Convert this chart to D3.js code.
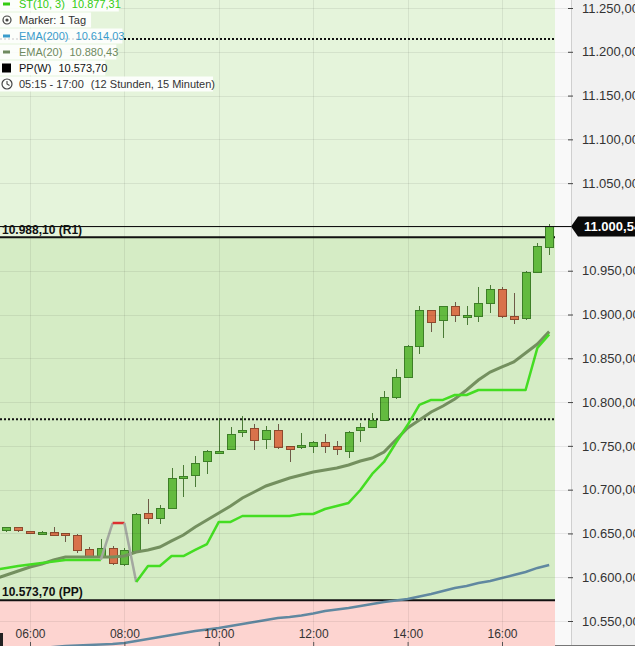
<!DOCTYPE html>
<html><head><meta charset="utf-8">
<script src="https://cdn.jsdelivr.net/npm/d3@7"></script>
<style>
html,body{margin:0;padding:0;background:#fff;overflow:hidden}
svg{display:block;font-family:"Liberation Sans",Arial,sans-serif}
</style></head><body>
<svg id="c" width="635" height="646"></svg>
<script>
// ---------- DATA ----------
const times = ["05:15","05:30","05:45","06:00","06:15","06:30","06:45","07:00","07:15","07:30","07:45","08:00",
  "08:15","08:30","08:45","09:00","09:15","09:30","09:45","10:00","10:15","10:30","10:45","11:00",
  "11:15","11:30","11:45","12:00","12:15","12:30","12:45","13:00","13:15","13:30","13:45","14:00",
  "14:15","14:30","14:45","15:00","15:15","15:30","15:45","16:00","16:15","16:30","16:45","17:00"];
const candleTimes = ["05:30","05:45","06:00","06:15","06:30","06:45","07:00","07:15","07:30","07:45","08:00",
  "08:15","08:30","08:45","09:00","09:15","09:30","09:45","10:00","10:15","10:30","10:45","11:00",
  "11:15","11:30","11:45","12:00","12:15","12:30","12:45","13:00","13:15","13:30","13:45","14:00",
  "14:15","14:30","14:45","15:00","15:15","15:30","15:45","16:00","16:15","16:30","16:45","17:00"];
const open = [10652.8,10656.2,10651.8,10649.4,10651.6,10649.4,10647.1,10631.1,10624.2,10632.3,10614.0,
  10628.8,10673.3,10666.5,10679.0,10712.2,10715.6,10731.6,10741.8,10746.4,10764.7,10769.3,10757.8,
  10767.0,10748.7,10747.6,10748.7,10754.4,10749.0,10743.0,10767.0,10771.5,10778.4,10804.7,10827.5,
  10862.9,10904.0,10892.6,10909.7,10898.3,10897.2,10913.1,10929.1,10897.2,10894.9,10947.4,10976.0];
const high = [10657.3,10657.3,10653.0,10652.8,10657.3,10649.6,10649.4,10634.5,10643.7,10635.7,10633.0,
  10673.3,10689.3,10682.5,10724.7,10728.1,10738.4,10745.3,10781.8,10771.5,10784.1,10775.0,10772.7,
  10775.0,10749.0,10764.7,10756.0,10763.5,10755.6,10766.5,10776.1,10787.5,10812.7,10837.8,10865.2,
  10909.7,10904.5,10909.5,10914.3,10909.7,10931.4,10933.7,10931.4,10924.6,10949.5,10981.7,11003.0];
const low = [10652.0,10652.0,10650.0,10648.2,10648.0,10640.2,10627.7,10623.5,10623.5,10614.0,10613.0,
  10628.0,10660.8,10660.8,10678.0,10691.6,10703.0,10717.9,10741.0,10745.0,10760.1,10745.3,10746.4,
  10746.5,10731.6,10746.4,10741.8,10741.8,10739.6,10736.1,10754.4,10771.0,10778.0,10804.0,10827.0,
  10854.9,10880.0,10873.2,10891.4,10888.0,10891.4,10901.7,10896.0,10889.2,10894.0,10947.0,10968.0];
const close = [10656.2,10652.8,10651.4,10650.8,10648.2,10647.1,10630.0,10624.2,10632.3,10615.1,10630.0,
  10671.1,10666.5,10679.0,10712.2,10714.5,10729.3,10743.0,10744.1,10763.5,10768.1,10755.6,10767.0,
  10747.6,10746.4,10749.9,10754.4,10749.0,10745.3,10765.8,10771.5,10778.4,10804.7,10828.6,10862.9,
  10904.0,10891.4,10908.6,10898.3,10898.6,10912.0,10928.0,10897.2,10894.0,10948.5,10977.1,11000.54];

const ema20 = [10598.0,10602.5,10607.1,10611.7,10615.1,10619.7,10623.1,10623.1,10623.1,10623.1,10623.1,10624.2,
  10628.8,10631.1,10634.5,10641.4,10648.2,10657.4,10665.3,10673.3,10681.3,10690.5,10697.3,10704.2,
  10708.7,10713.3,10716.7,10720.2,10722.4,10724.7,10728.1,10732.7,10736.1,10743.0,10756.7,10770.4,
  10779.5,10788.7,10795.5,10803.5,10813.8,10825.2,10834.3,10840.1,10845.8,10856.0,10866.3,10880.43];
const ema200 = [10514.6,10515.8,10516.9,10518.0,10519.2,10520.3,10521.5,10522.1,10522.6,10523.2,10523.7,10524.9,
  10527.2,10529.5,10531.8,10534.0,10536.3,10538.6,10540.3,10542.0,10544.3,10546.6,10548.9,10551.2,
  10553.5,10554.6,10556.3,10558.6,10561.4,10563.2,10564.9,10567.2,10569.4,10571.7,10573.4,10575.1,
  10578.0,10580.8,10584.3,10587.7,10590.0,10593.4,10595.7,10599.1,10602.6,10606.0,10610.6,10614.03];
const st = [10608.3,10610.5,10612.8,10614.5,10616.2,10617.9,10619.7,10619.7,10619.7,10619.7,10661.9,10661.9,
  10594.5,10612.8,10612.8,10624.2,10624.2,10631.1,10637.9,10663.1,10663.1,10669.9,10669.9,10669.9,
  10669.9,10669.9,10672.2,10672.2,10677.9,10681.3,10684.8,10699.6,10717.9,10731.6,10753.3,10773.8,
  10796.7,10802.4,10802.4,10808.1,10808.1,10813.8,10813.8,10813.8,10813.8,10813.8,10861.8,10877.31];
const stTrend = ["u","u","u","u","u","u","u","u","u","u","d","d",
  "u","u","u","u","u","u","u","u","u","u","u","u",
  "u","u","u","u","u","u","u","u","u","u","u","u",
  "u","u","u","u","u","u","u","u","u","u","u","u"];

const r1 = 10988.10, pp = 10573.70, lastPrice = 11000.54;
const dottedLevels = [11214.6, 10780.3];
const yTicks = [10550,10600,10650,10700,10750,10800,10850,10900,10950,11000,11050,11100,11150,11200,11250];
const xTicks = ["06:00","08:00","10:00","12:00","14:00","16:00"];
const legendNames = ["ST(10, 3)","Marker: 1 Tag","EMA(200)","EMA(20)","PP(W)","05:15 - 17:00"];
const sessionText = "(12 Stunden, 15 Minuten)";

// ---------- SETUP ----------
const W = 635, H = 646, plotR = 555, axisX = 571;
const fmt = d3.formatLocale({decimal:",",thousands:".",grouping:[3],currency:["","€"]}).format(",.2f");
const T = s => { const [h,m] = s.split(":").map(Number); return new Date(2020,0,1,h,m); };
const x = d3.scaleTime().domain([T("06:00"), T("16:00")]).range([30, 502]);
const y = d3.scaleLinear().domain([10550, 11250]).range([621, 8]);

const svg = d3.select("#c");
svg.append("defs").append("clipPath").attr("id","clip")
  .append("rect").attr("x",0).attr("y",0).attr("width",plotR).attr("height",H);

// backgrounds
svg.append("rect").attr("x",plotR).attr("y",0).attr("width",axisX-plotR).attr("height",H).attr("fill","#f9f9f9");
svg.append("rect").attr("x",axisX).attr("y",0).attr("width",W-axisX).attr("height",H).attr("fill","#f1f1f1");
const plot = svg.append("g").attr("clip-path","url(#clip)");
plot.append("rect").attr("x",0).attr("y",0).attr("width",plotR).attr("height",y(r1)).attr("fill","#e5f4db");
plot.append("rect").attr("x",0).attr("y",y(r1)).attr("width",plotR).attr("height",y(pp)-y(r1)).attr("fill","#d5ecc5");
plot.append("rect").attr("x",0).attr("y",y(pp)).attr("width",plotR).attr("height",H-y(pp)).attr("fill","#fdd4d0");

// grid
svg.append("g").selectAll("line").data(yTicks).join("line")
  .attr("x1",0).attr("x2",axisX).attr("y1",d=>Math.round(y(d))+0.5).attr("y2",d=>Math.round(y(d))+0.5)
  .attr("stroke","rgba(0,0,0,0.07)");
plot.append("g").selectAll("line").data(xTicks).join("line")
  .attr("y1",0).attr("y2",H).attr("x1",d=>Math.round(x(T(d)))+0.5).attr("x2",d=>Math.round(x(T(d)))+0.5)
  .attr("stroke","rgba(0,0,0,0.07)");
svg.append("line").attr("x1",axisX+0.5).attr("x2",axisX+0.5).attr("y1",0).attr("y2",H).attr("stroke","#cfcfcf");
svg.append("line").attr("x1",plotR).attr("x2",W).attr("y1",H-0.5).attr("y2",H-0.5).attr("stroke","#777");

// level lines
plot.append("g").selectAll("line").data(dottedLevels).join("line")
  .attr("x1",0).attr("x2",plotR).attr("y1",d=>y(d)).attr("y2",d=>y(d))
  .attr("stroke","#111").attr("stroke-width",2).attr("stroke-dasharray","2,2");
plot.append("line").attr("x1",0).attr("x2",plotR).attr("y1",y(r1)).attr("y2",y(r1)).attr("stroke","#111").attr("stroke-width",2);
plot.append("line").attr("x1",0).attr("x2",plotR).attr("y1",y(pp)).attr("y2",y(pp)).attr("stroke","#111").attr("stroke-width",2);
svg.append("line").attr("x1",0).attr("x2",axisX).attr("y1",Math.round(y(lastPrice))+0.5).attr("y2",Math.round(y(lastPrice))+0.5)
  .attr("stroke","#111").attr("stroke-width",1);

// candles
const candles = candleTimes.map((t,i)=>({t:T(t),o:open[i],h:high[i],l:low[i],c:close[i]}));
const cg = plot.append("g").attr("shape-rendering","crispEdges");
cg.selectAll("line").data(candles).join("line")
  .attr("x1",d=>Math.round(x(d.t))+0.5).attr("x2",d=>Math.round(x(d.t))+0.5)
  .attr("y1",d=>y(d.h)).attr("y2",d=>y(d.l))
  .attr("stroke",d=>d.c>=d.o?"#4a7a36":"#6e5a48").attr("stroke-width",1);
cg.selectAll("rect").data(candles).join("rect")
  .attr("x",d=>Math.round(x(d.t))-3.5).attr("width",8)
  .attr("y",d=>y(Math.max(d.o,d.c))).attr("height",d=>Math.max(1.5,Math.abs(y(d.o)-y(d.c))))
  .attr("fill",d=>d.c>=d.o?"#63ba3f":"#d9724b")
  .attr("stroke",d=>d.c>=d.o?"#3d7f27":"#8e4a2e").attr("stroke-width",1);

// lines
const pts = arr => times.map((t,i)=>({t:T(t),v:arr[i]}));
const line = d3.line().x(d=>x(d.t)).y(d=>y(d.v));
plot.append("path").datum(pts(ema200)).attr("d",line).attr("fill","none").attr("stroke","#6088a0").attr("stroke-width",2.5);
plot.append("path").datum(pts(ema20)).attr("d",line).attr("fill","none").attr("stroke","#74905f").attr("stroke-width",3);

// supertrend in runs of colour
const stPts = pts(st);
const segColor = i => stTrend[i]===stTrend[i+1] ? (stTrend[i]==="u" ? "#44dd22" : "#dd3030") : "#a3a8a0";
const runs = [];
for (let i=0;i<stPts.length-1;i++){
  const c = segColor(i);
  if (runs.length && runs[runs.length-1].c===c) runs[runs.length-1].p.push(stPts[i+1]);
  else runs.push({c, p:[stPts[i], stPts[i+1]]});
}
plot.append("g").selectAll("path").data(runs).join("path")
  .attr("d",d=>line(d.p)).attr("fill","none").attr("stroke",d=>d.c).attr("stroke-width",2.5)
  .attr("stroke-linejoin","round");

// level labels
svg.append("text").attr("x",2).attr("y",y(r1)-3).text(fmt(r1)+" (R1)")
  .attr("font-size",12).attr("font-weight","bold").attr("fill","#111");
svg.append("text").attr("x",2).attr("y",y(pp)-4).text(fmt(pp)+" (PP)")
  .attr("font-size",12).attr("font-weight","bold").attr("fill","#111");

// axes (the label hidden behind the price marker is not drawn)
const py = Math.round(y(lastPrice));
const yLabelTicks = yTicks.filter(v => Math.abs(y(v) - py) > 12);
const yAxis = d3.axisRight(y).tickValues(yLabelTicks).tickFormat(fmt).tickSize(5).tickPadding(9);
const gy = svg.append("g").attr("transform",`translate(${axisX-3},0)`).call(yAxis);
gy.select(".domain").remove();
gy.selectAll(".tick line").attr("stroke","#444");
gy.selectAll(".tick text").attr("font-size",13).attr("fill","#333").attr("font-family","'Liberation Sans',Arial,sans-serif");

const xAxis = d3.axisTop(x).tickValues(xTicks.map(T)).tickFormat(d3.timeFormat("%H:%M")).tickSize(4).tickPadding(4);
const gx = svg.append("g").attr("transform",`translate(0,${H})`).call(xAxis);
gx.select(".domain").remove();
gx.selectAll(".tick line").attr("stroke","#555");
gx.selectAll(".tick text").attr("font-size",12).attr("fill","#333").attr("font-family","'Liberation Sans',Arial,sans-serif");
svg.append("rect").attr("x",0).attr("y",633).attr("width",3).attr("height",13).attr("fill","#222");

// price marker
svg.append("path").attr("d",`M${axisX},${py+0.5} L${axisX+7},${py-9.5} L${W},${py-9.5} L${W},${py+10.5} L${axisX+7},${py+10.5} Z`).attr("fill","#0a0a0a");
svg.append("text").attr("x",584).attr("y",py+5).text(fmt(lastPrice))
  .attr("font-size",13).attr("font-weight","bold").attr("fill","#fff");

// legend
const legendValues = [fmt(st[st.length-1]), "", fmt(ema200[ema200.length-1]), fmt(ema20[ema20.length-1]), fmt(pp), sessionText];
const legendColors = ["#33cc11","#333","#3a9ccc","#6f8a5f","#111","#333"];
const lg = svg.append("g");
legendNames.forEach((name,i)=>{
  const cy = 4 + i*16;
  const row = lg.append("g");
  const bg = row.append("rect").attr("x",0).attr("y",cy-7.5).attr("height",15).attr("fill","#fff").attr("fill-opacity",0.88);
  const tx = row.append("text").attr("x",19).attr("y",cy+4).attr("font-size",11).attr("fill",legendColors[i]);
  tx.append("tspan").text(name);
  if (legendValues[i]) tx.append("tspan").attr("dx",7).text(legendValues[i]);
  const wdt = tx.node().getComputedTextLength();
  bg.attr("width",19+wdt+5);
  if (i===0) row.append("rect").attr("x",3).attr("y",cy-1.5).attr("width",7).attr("height",3).attr("fill","#33cc11");
  if (i===1){
    row.append("circle").attr("cx",7).attr("cy",cy).attr("r",4).attr("fill","none").attr("stroke","#444").attr("stroke-width",1.2);
    row.append("circle").attr("cx",7).attr("cy",cy).attr("r",1.6).attr("fill","#444");
  }
  if (i===2) row.append("rect").attr("x",3).attr("y",cy-1.5).attr("width",7).attr("height",3).attr("fill","#3a9ccc");
  if (i===3) row.append("rect").attr("x",3).attr("y",cy-1.5).attr("width",7).attr("height",3).attr("fill","#6f8a5f");
  if (i===4) row.append("rect").attr("x",2).attr("y",cy-4.5).attr("width",9).attr("height",9).attr("fill","#000");
  if (i===5){
    row.append("circle").attr("cx",7).attr("cy",cy).attr("r",5).attr("fill","none").attr("stroke","#444").attr("stroke-width",1.2);
    row.append("path").attr("d",`M7,${cy-3} L7,${cy} L9.5,${cy+1.5}`).attr("fill","none").attr("stroke","#444").attr("stroke-width",1.1);
  }
});
</script>
</body></html>
